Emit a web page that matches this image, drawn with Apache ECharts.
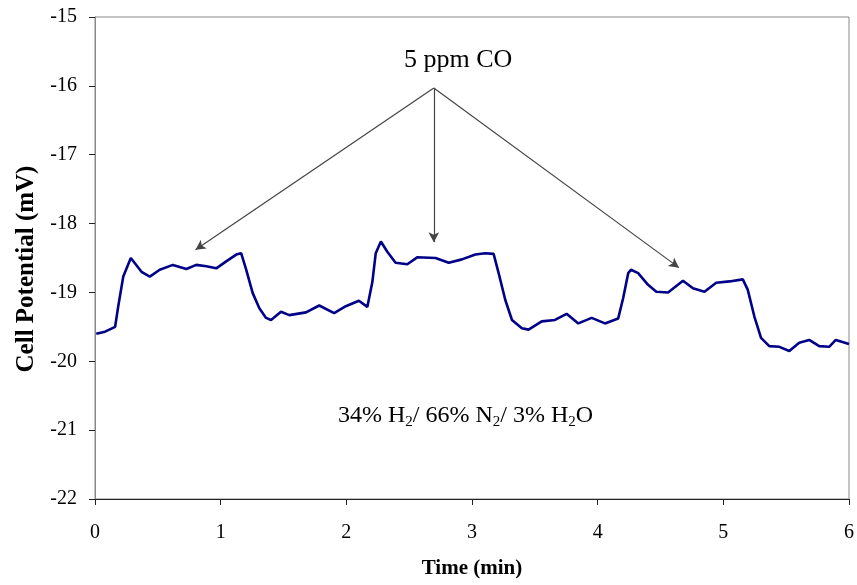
<!DOCTYPE html>
<html>
<head>
<meta charset="utf-8">
<script src="https://cdn.jsdelivr.net/npm/echarts@6/dist/echarts.min.js"></script>
<style>
  html, body { margin: 0; padding: 0; background: #fff; }
  #chart { width: 857px; height: 585px; }
</style>
</head>
<body>
<div id="chart"></div>
<script>
const timeMin = [0.01, 0.08, 0.16, 0.185, 0.225, 0.285, 0.37, 0.436, 0.515, 0.62, 0.727, 0.806, 0.886, 0.965, 1.044, 1.124, 1.163, 1.203, 1.255, 1.308, 1.361, 1.401, 1.48, 1.546, 1.679, 1.784, 1.903, 1.996, 2.1, 2.167, 2.207, 2.234, 2.275, 2.326, 2.392, 2.485, 2.564, 2.71, 2.815, 2.92, 3.027, 3.106, 3.172, 3.212, 3.265, 3.318, 3.397, 3.45, 3.555, 3.66, 3.753, 3.846, 3.952, 4.058, 4.163, 4.203, 4.243, 4.265, 4.322, 4.401, 4.467, 4.56, 4.679, 4.758, 4.85, 4.943, 5.048, 5.155, 5.194, 5.247, 5.3, 5.366, 5.446, 5.525, 5.604, 5.683, 5.763, 5.842, 5.895, 6.0];
const potential = [-19.6, -19.57, -19.5, -19.2, -18.77, -18.5, -18.7, -18.77, -18.67, -18.6, -18.66, -18.6, -18.62, -18.65, -18.55, -18.45, -18.43, -18.67, -19.01, -19.23, -19.37, -19.4, -19.28, -19.33, -19.29, -19.19, -19.3, -19.2, -19.12, -19.21, -18.85, -18.43, -18.26, -18.41, -18.57, -18.59, -18.49, -18.5, -18.57, -18.52, -18.45, -18.43, -18.44, -18.72, -19.11, -19.4, -19.52, -19.54, -19.42, -19.4, -19.31, -19.45, -19.37, -19.45, -19.38, -19.08, -18.72, -18.67, -18.72, -18.89, -18.99, -19.0, -18.83, -18.94, -18.99, -18.86, -18.84, -18.81, -18.96, -19.35, -19.66, -19.78, -19.79, -19.85, -19.73, -19.69, -19.78, -19.79, -19.69, -19.75];

const xTicks = [0, 1, 2, 3, 4, 5, 6];
const yTicks = [-22, -21, -20, -19, -18, -17, -16, -15];

// arrows from the "5 ppm CO" label to each exposure step
const arrowStart = [2.696, -16.03];
const arrowEnds = [[0.8, -18.38], [2.696, -18.27], [4.647, -18.64]];

const serif = '"Liberation Serif", "Times New Roman", serif';

const chart = echarts.init(document.getElementById('chart'), null, { renderer: 'canvas' });

const option = {
  animation: false,
  backgroundColor: '#fff',
  grid: {
    left: 95, right: 6, top: 17, bottom: 86,
    show: true, borderColor: '#888', borderWidth: 1
  },
  xAxis: {
    type: 'value',
    min: xTicks[0], max: xTicks[xTicks.length - 1], interval: 1,
    name: 'Time (min)',
    nameLocation: 'middle', nameGap: 59,
    nameTextStyle: { fontFamily: serif, fontWeight: 'bold', fontSize: 21, color: '#000' },
    axisLine: { lineStyle: { color: '#222', width: 1 } },
    axisTick: { show: true, inside: false, length: 6, lineStyle: { color: '#222' } },
    axisLabel: { fontFamily: serif, fontSize: 20, color: '#000', margin: 24 },
    splitLine: { show: false }
  },
  yAxis: {
    type: 'value',
    min: yTicks[0], max: yTicks[yTicks.length - 1], interval: 1,
    name: 'Cell Potential (mV)',
    nameLocation: 'middle', nameGap: 56, nameRotate: 90,
    nameTextStyle: { fontFamily: serif, fontWeight: 'bold', fontSize: 25, color: '#000', padding: [0, 22, 0, 0] },
    axisLine: { show: true, lineStyle: { color: '#888', width: 1 } },
    axisTick: { show: true, inside: false, length: 6, lineStyle: { color: '#222' } },
    axisLabel: { fontFamily: serif, fontSize: 20, color: '#000', margin: 18 },
    splitLine: { show: false }
  },
  series: [{
    type: 'line',
    data: timeMin.map((t, i) => [t, potential[i]]),
    showSymbol: false,
    smooth: false,
    lineStyle: { color: '#000088', width: 2.6 },
    markLine: {
      silent: true,
      symbol: ['none', 'arrow'],
      symbolSize: [8, 10],
      label: { show: false },
      lineStyle: { color: '#444', width: 1.2, type: 'solid' },
      data: arrowEnds.map(e => [{ coord: arrowStart }, { coord: e }])
    }
  }],
  graphic: [{
    type: 'text',
    left: 404, top: 47,
    style: { text: '5 ppm CO', font: '26px ' + serif, fill: '#000' }
  }, {
    type: 'text',
    left: 338, top: 404,
    style: {
      text: '34% H{sub|2}/ 66% N{sub|2}/ 3% H{sub|2}O',
      font: '24px ' + serif, fill: '#000',
      rich: { sub: { fontSize: 15, fontFamily: serif, padding: [12, 0, 0, 0] } }
    }
  }]
};

chart.setOption(option);
</script>
</body>
</html>
